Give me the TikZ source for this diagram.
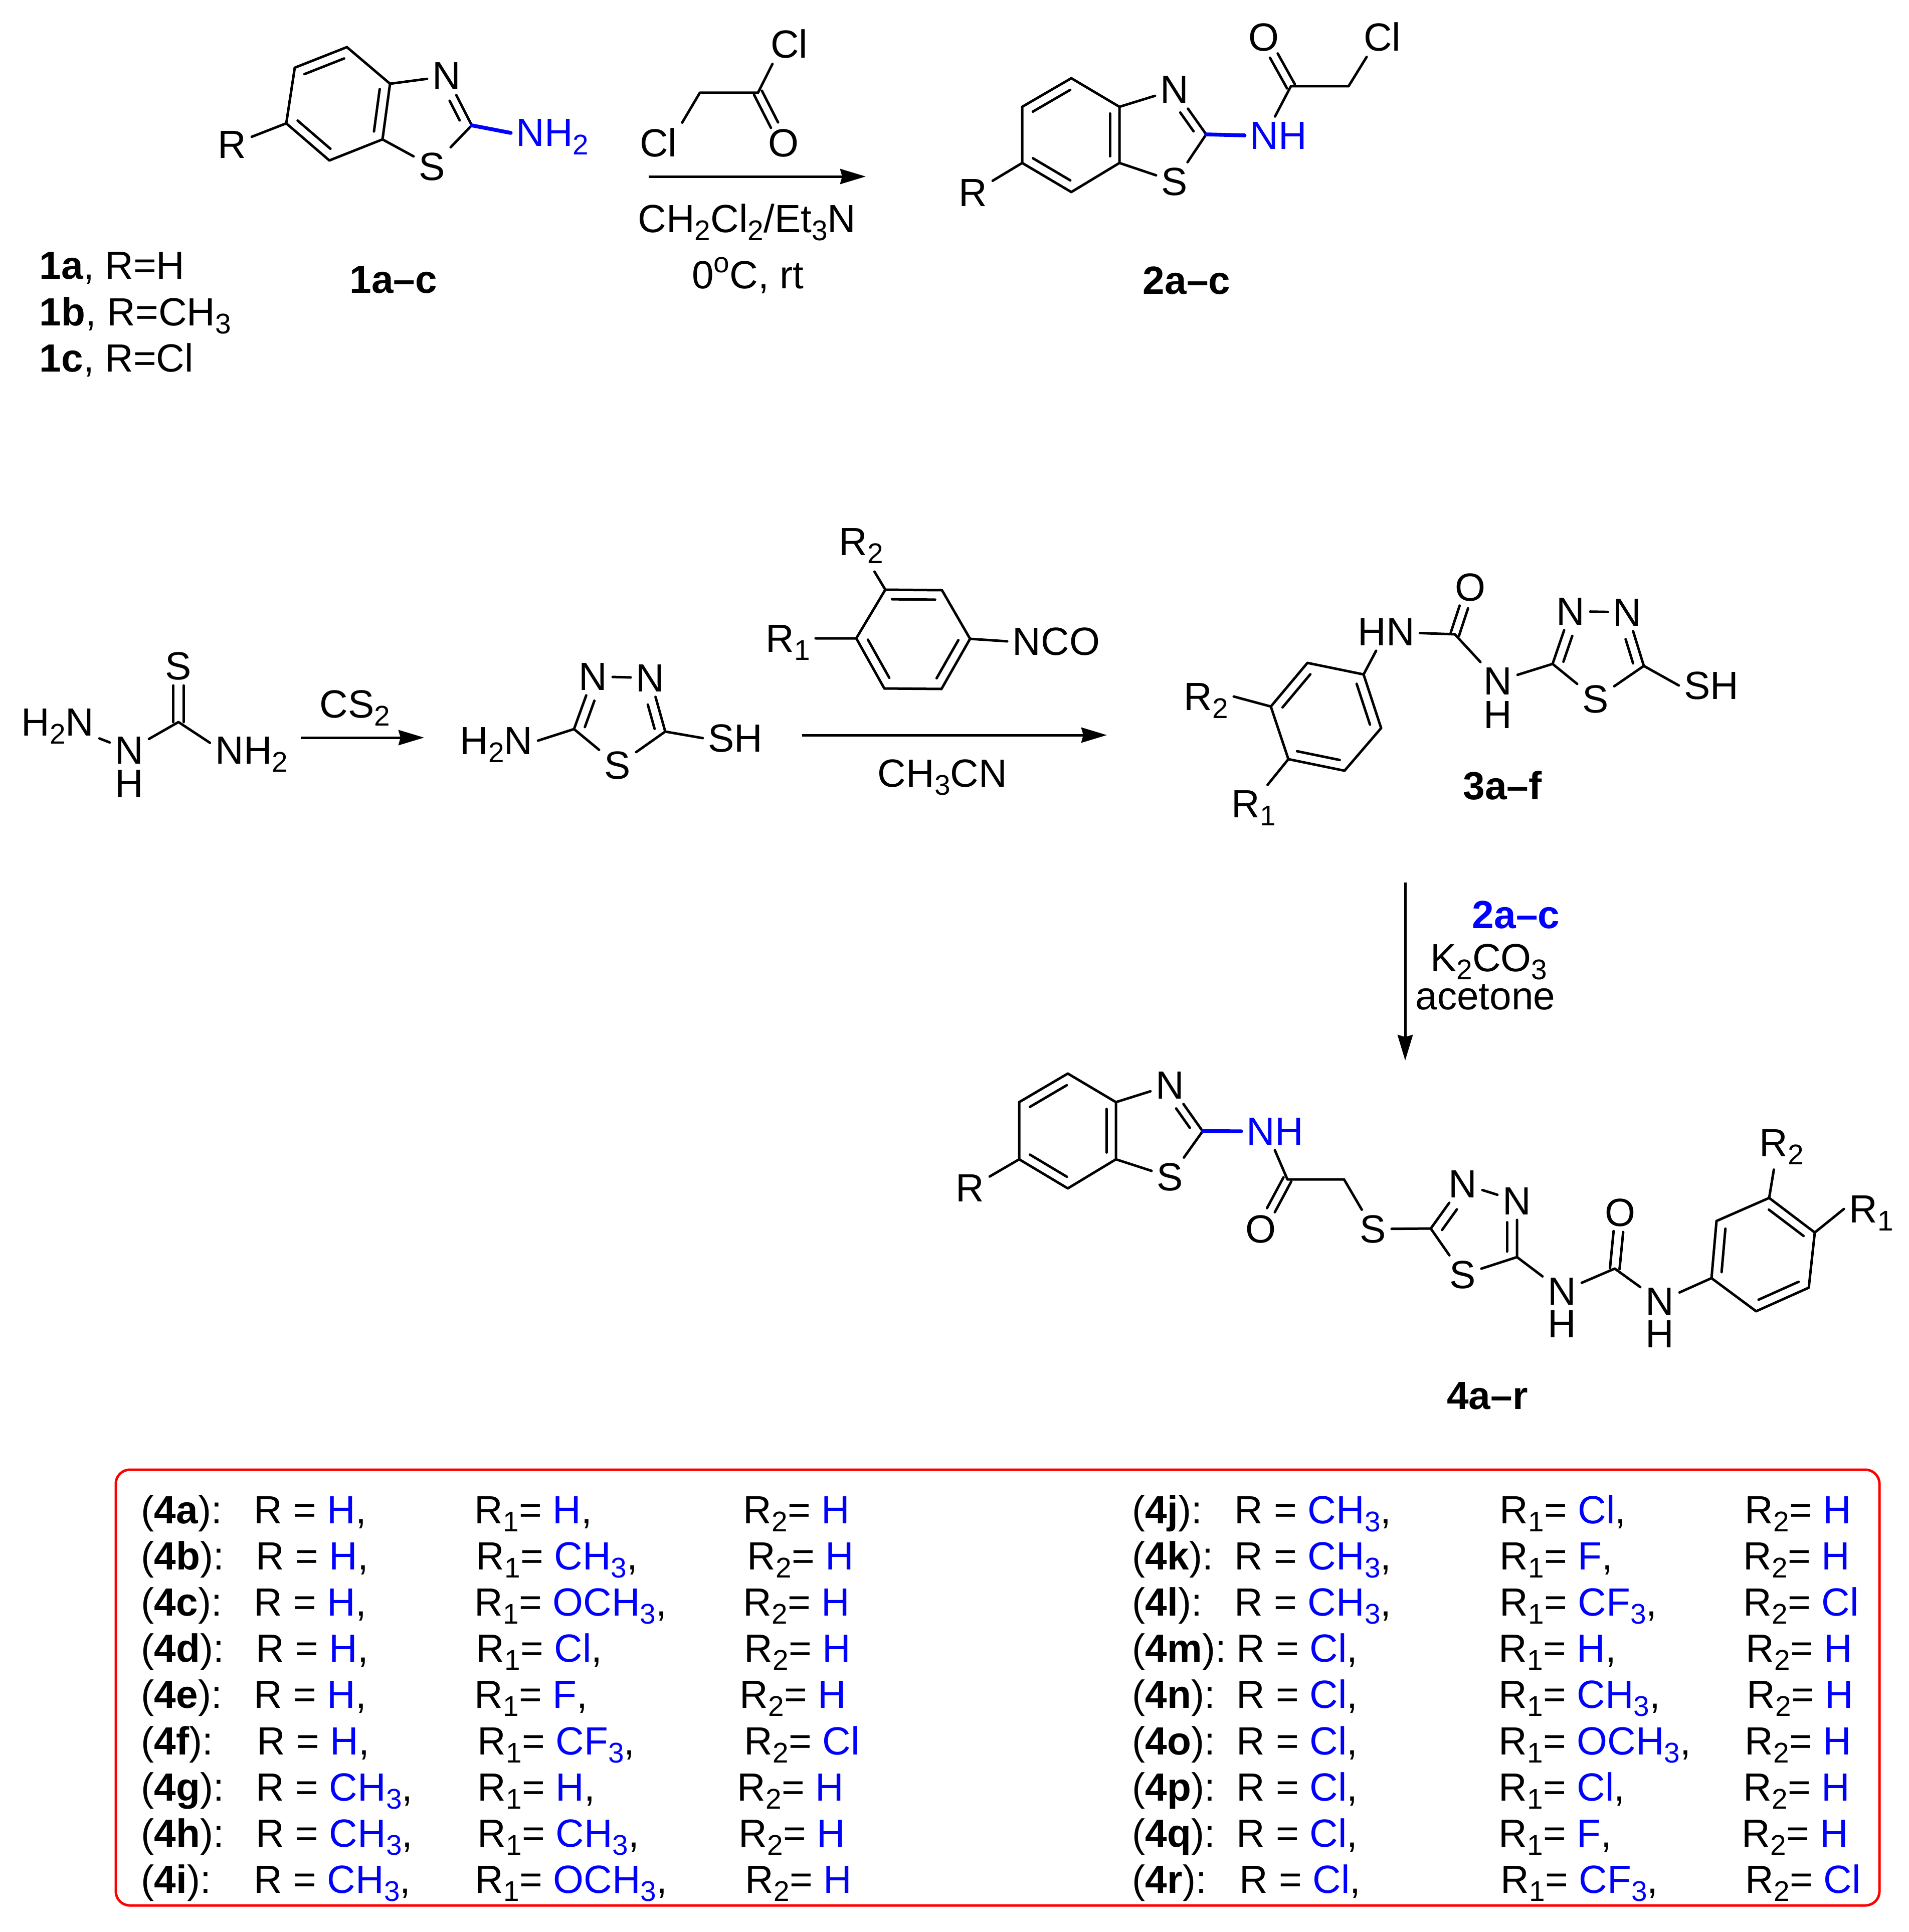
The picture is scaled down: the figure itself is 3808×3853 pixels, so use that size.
\documentclass[tikz,border=0pt]{standalone}
\usepackage{fontspec}
\setmainfont{Liberation Sans}
\usetikzlibrary{arrows.meta,calc}
\definecolor{pureblue}{RGB}{0,0,255}
\definecolor{purered}{RGB}{255,0,0}
\newcommand{\ssb}[1]{\smash{\raisebox{-4.2pt}{\fontsize{14.2}{14}\selectfont #1}}}
\newcommand{\bl}[1]{\textcolor{pureblue}{#1}}
\newcommand{\ibond}[5]{\draw[bond] ($(#1)!#4!(#2)!#3!90:(#2)$) -- ($(#1)!#5!(#2)!#3!90:(#2)$);}
\newcommand{\rdbl}[2]{\ibond{#1}{#2}{-4.75pt}{.12}{.88}}
\newcommand{\datarow}[9]{%
  \node[rowtxt] (lab#1) at (#2,#3) {(\textbf{#1}):};
  \node[rowtxt] (r#1) at (#4-6,#3) {R = #5};
  \node[rowtxt] (ra#1) at (#6-6,#3) {R\ssb{1}= #7};
  \node[rowtxt] (rb#1) at (#8-6,#3) {R\ssb{2}= #9};}
\tikzset{
  bond/.style={line width=1.25pt,line cap=round,black},
  bbond/.style={line width=1.9pt,line cap=round,pureblue},
  rxn/.style={line width=1.25pt,black,-{Stealth[length=12.75pt,width=7.5pt,inset=1pt]}},
  atom/.style={anchor=base,inner sep=2.5pt},
  hatom/.style={anchor=base,inner sep=0pt},
  rowtxt/.style={anchor=base west,inner sep=0pt},
  cmpd/.style={anchor=base,inner sep=0pt,font=\fontsize{19.6}{22}\selectfont\bfseries},
  every node/.append style={font=\fontsize{19.6}{22}\selectfont}
}
\begin{document}
\begin{tikzpicture}[x=0.25pt,y=-0.25pt]
\useasboundingbox (0,0) rectangle (3808,3853);
% ---------- compound 1
\foreach \n/\x/\y in {pa/692/94,pb/588/135,pc/571/246,pd/657/320,pe/763/278,pf/778/167,pg/941/250,
  ph/1396/185,pi/1512/185}
  \coordinate (\n) at (\x,\y);
\node[atom] (pN) at (891,179) {N};
\node[atom] (pS) at (862,359) {S};
\node[atom] (pR) at (463,315) {R};
\node[atom] (pNH) at (1102,292) {\bl{NH\ssb{2}}};
\draw[bond] (pa)--(pb) (pb)--(pc) (pc)--(pd) (pd)--(pe) (pe)--(pf) (pf)--(pa);
\rdbl{pb}{pa}\rdbl{pd}{pc}\rdbl{pf}{pe}
\draw[bond] (pf)--(pN) (pg)--(pN) (pg)--(pS) (pe)--(pS) (pc)--(pR);
\ibond{pg}{pN}{4.25pt}{.18}{.58}
\draw[bbond] (pg)--(pNH.west);
% chloroacetyl chloride
\node[atom] (aClt) at (1574,116) {Cl};
\node[atom] (aCll) at (1313,312) {Cl};
\node[atom] (aO) at (1563,312) {O};
\draw[bond] (ph)--(pi) (pi)--(aClt.-130) (ph)--(aCll.north east);
\ibond{pi}{aO}{2.2pt}{0}{.63}
\ibond{pi}{aO}{-2.2pt}{0}{.66}
\coordinate (ar1s) at (1294,352);
\coordinate (ar1e) at (1727,352);
\draw[rxn] (ar1s)--(ar1e);
\node[anchor=base,inner sep=0pt] (cond1) at (1490,463) {CH\ssb{2}Cl\ssb{2}/Et\ssb{3}N};
\node[anchor=base,inner sep=0pt] (cond2) at (1492,575) {0\raisebox{8pt}{\fontsize{14.2}{14}\selectfont o}C, rt};
\node[cmpd] (c1) at (785,584) {1a–c};
\node[rowtxt] (la) at (78,556) {\textbf{1a}, R=H};
\node[rowtxt] (lb) at (78,649) {\textbf{1b}, R=CH\ssb{3}};
\node[rowtxt] (lc) at (78,741) {\textbf{1c}, R=Cl};
% ---------- compound 2
\foreach \n/\x/\y in {qa/2137/156,qb/2039/213,qc/2039/325,qd/2137/383,qe/2233/325,qf/2233/213,qg/2406/268,
  qh/2575/172,qi/2690/172}
  \coordinate (\n) at (\x,\y);
\node[atom] (qN) at (2343,206) {N};
\node[atom] (qS) at (2343,389) {S};
\node[atom] (qR) at (1941,411) {R};
\node[atom] (qNH) at (2550,297) {\bl{NH}};
\node[atom] (qO) at (2521,102) {O};
\node[atom] (qCl) at (2757,102) {Cl};
\draw[bond] (qa)--(qb) (qb)--(qc) (qc)--(qd) (qd)--(qe) (qe)--(qf) (qf)--(qa);
\rdbl{qb}{qa}\rdbl{qd}{qc}\rdbl{qf}{qe}
\draw[bond] (qf)--(qN) (qg)--(qN) (qg)--(qS) (qe)--(qS) (qc)--(qR);
\ibond{qg}{qN}{4.25pt}{.18}{.6}
\draw[bbond] (qg)--(qNH.west);
\draw[bond] (qh)--(qNH.100) (qh)--(qi) (qi)--(qCl.-128);
\ibond{qh}{qO}{2.2pt}{0}{.63}
\ibond{qh}{qO}{-2.2pt}{0}{.63}
\node[cmpd] (c2) at (2367,586) {2a–c};
% ---------- thiosemicarbazide
\coordinate (tc) at (356,1440);
\node[atom] (tH2N) at (115,1467) {H\ssb{2}N};
\node[atom] (tN) at (258,1523) {N};
\node[hatom] (tH) at (258,1589) {H};
\node[atom] (tNH2) at (502,1523) {NH\ssb{2}};
\node[atom] (tS) at (356,1355) {S};
\draw[bond] (tH2N)--(tN) (tc)--(tN) (tc)--(tNH2.170);
\ibond{tc}{tS}{2.6pt}{0}{.65}
\ibond{tc}{tS}{-2.6pt}{0}{.65}
\coordinate (ar2s) at (600,1471);
\coordinate (ar2e) at (846,1471);
\draw[rxn] (ar2s)--(ar2e);
\node[anchor=base,inner sep=0pt] (cs2) at (708,1431) {CS\ssb{2}};
% ---------- amino thiadiazole thiol
\coordinate (ua) at (1145,1454);
\coordinate (ub) at (1327,1459);
\node[atom] (uN) at (1183,1376) {N};
\node[atom] (uNp) at (1297,1379) {N};
\node[atom] (uS) at (1232,1553) {S};
\node[atom] (uNH) at (990,1504) {H\ssb{2}N};
\node[atom] (uSH) at (1467,1499) {SH};
\draw[bond] (ua)--(uN) (ub)--(uNp) (uN)--(uNp) (ua)--(uS) (ub)--(uS) (ua)--(uNH.east) (ub)--(uSH.west);
\ibond{ua}{uN}{-4.75pt}{.1}{.6}
\ibond{ub}{uNp}{4.75pt}{.1}{.55}
\coordinate (ar3s) at (1600,1466);
\coordinate (ar3e) at (2208,1466);
\draw[rxn] (ar3s)--(ar3e);
\node[anchor=base,inner sep=0pt] (acn) at (1880,1569) {CH\ssb{3}CN};
% ---------- isocyanate
\foreach \n/\x/\y in {va/1766/1176,vb/1879/1177,vc/1935/1274,vd/1878/1374,ve/1764/1373,vf/1708/1273}
  \coordinate (\n) at (\x,\y);
\node[atom] (vR2) at (1718,1107) {R\ssb{2}};
\node[atom] (vR1) at (1572,1300) {R\ssb{1}};
\node[atom] (vNCO) at (2107,1306) {NCO};
\draw[bond] (va)--(vb) (vb)--(vc) (vc)--(vd) (vd)--(ve) (ve)--(vf) (vf)--(va);
\rdbl{va}{vb}\rdbl{vc}{vd}\rdbl{ve}{vf}
\draw[bond,shorten >=6.5pt] (va)--(vR2.-71);
\draw[bond] (vf)--(vR1.east) (vc)--(vNCO.west);
% ---------- compound 3
\foreach \n/\x/\y in {wa/2608/1322,wb/2720/1345,wc/2755/1452,wd/2682/1537,we/2570/1514,wf/2535/1409,
  wg/2902/1265,wh/3097/1324,wi/3279/1328}
  \coordinate (\n) at (\x,\y);
\node[atom] (wR2) at (2406,1416) {R\ssb{2}};
\node[atom] (wR1) at (2501,1630) {R\ssb{1}};
\node[atom] (wHN) at (2765,1287) {HN};
\node[atom] (wO) at (2933,1198) {O};
\node[atom] (wN) at (2988,1385) {N};
\node[hatom] (wH) at (2988,1452) {H};
\node[atom] (wNa) at (3133,1246) {N};
\node[atom] (wNb) at (3246,1248) {N};
\node[atom] (wS) at (3183,1421) {S};
\node[atom] (wSH) at (3414,1394) {SH};
\draw[bond] (wa)--(wb) (wb)--(wc) (wc)--(wd) (wd)--(we) (we)--(wf) (wf)--(wa);
\rdbl{wb}{wc}\rdbl{wd}{we}\rdbl{wf}{wa}
\draw[bond] (wf)--(wR2.east) (we)--(wR1.54) (wb)--(wHN) (wHN)--(wg) (wg)--(wN) (wN)--(wh);
\ibond{wg}{wO}{2.2pt}{0}{.58}
\ibond{wg}{wO}{-2.2pt}{0}{.58}
\draw[bond] (wh)--(wNa) (wi)--(wNb) (wNa)--(wNb) (wh)--(wS) (wi)--(wS) (wi)--(wSH.west);
\ibond{wh}{wNa}{-4.75pt}{.1}{.59}
\ibond{wi}{wNb}{4.75pt}{.1}{.55}
\node[cmpd] (c3) at (2997,1594) {3a–f};
% ---------- vertical arrow
\coordinate (ar4s) at (2803,1760);
\coordinate (ar4e) at (2803,2115);
\draw[rxn] (ar4s)--(ar4e);
\node[cmpd,text=pureblue] (c2b) at (3024,1851) {2a–c};
\node[anchor=base,inner sep=0pt] (k2) at (2970,1937) {K\ssb{2}CO\ssb{3}};
\node[anchor=base,inner sep=0pt] (ace) at (2963,2013) {acetone};
% ---------- compound 4
\foreach \n/\x/\y in {xa/2130/2141,xb/2033/2198,xc/2033/2312,xd/2130/2370,xe/2226/2312,xf/2226/2198,xg/2399/2256,
  xh/2568/2352,xi/2681/2352,xj/2854/2450,xk/3026/2507,xl/3221/2530,
  ya/3414/2549,yb/3424/2435,yc/3529/2389,yd/3620/2458,ye/3608/2568,yf/3503/2615}
  \coordinate (\n) at (\x,\y);
\node[atom] (xN) at (2334,2191) {N};
\node[atom] (xS) at (2334,2374) {S};
\node[atom] (xR) at (1935,2396) {R};
\node[atom] (xNH) at (2543,2283) {\bl{NH}};
\node[atom] (xO) at (2515,2478) {O};
\node[atom] (xT) at (2739,2478) {S};
\node[atom] (xNa) at (2918,2388) {N};
\node[atom] (xNb) at (3026,2422) {N};
\node[atom] (xU) at (2918,2569) {S};
\node[atom] (xNc) at (3116,2602) {N};
\node[hatom] (xHc) at (3116,2667) {H};
\node[atom] (xOb) at (3232,2445) {O};
\node[atom] (xNd) at (3311,2622) {N};
\node[hatom] (xHd) at (3311,2687) {H};
\node[atom] (yR2) at (3554,2306) {R\ssb{2}};
\node[atom] (yR1) at (3733,2438) {R\ssb{1}};
\draw[bond] (xa)--(xb) (xb)--(xc) (xc)--(xd) (xd)--(xe) (xe)--(xf) (xf)--(xa);
\rdbl{xb}{xa}\rdbl{xd}{xc}\rdbl{xf}{xe}
\draw[bond] (xf)--(xN) (xg)--(xN) (xg)--(xS) (xe)--(xS) (xc)--(xR);
\ibond{xg}{xN}{4.25pt}{.18}{.6}
\draw[bbond] (xg)--(xNH.west);
\draw[bond] (xh)--(xNH.south) (xh)--(xi) (xi)--(xT) (xT)--(xj);
\ibond{xh}{xO}{2.2pt}{0}{.62}
\ibond{xh}{xO}{-2.2pt}{0}{.62}
\draw[bond] (xj)--(xNa) (xk)--(xNb) (xNa)--(xNb) (xj)--(xU) (xk)--(xU) (xk)--(xNc) (xNc)--(xl) (xl)--(xNd) (xNd)--(ya);
\ibond{xj}{xNa}{-5pt}{.1}{.56}
\ibond{xk}{xNb}{5pt}{.1}{.62}
\ibond{xl}{xOb}{2.4pt}{0}{.66}
\ibond{xl}{xOb}{-2.4pt}{0}{.66}
\draw[bond] (ya)--(yb) (yb)--(yc) (yc)--(yd) (yd)--(ye) (ye)--(yf) (yf)--(ya);
\rdbl{ya}{yb}\rdbl{yc}{yd}\rdbl{ye}{yf}
\draw[bond,shorten >=4pt] (yc)--(yR2.-109);
\draw[bond] (yd)--(yR1.west);
\node[cmpd] (c4) at (2967,2810) {4a–r};
% ---------- table
\draw[purered,line width=1.25pt,rounded corners=7pt] (231,2931) rectangle (3749,3800);
\datarow{4a}{281}{3038}{512}{\bl{H},}{952}{\bl{H},}{1488}{\bl{H}}
\datarow{4b}{281}{3130}{516}{\bl{H},}{955}{\bl{CH\ssb{3}},}{1496}{\bl{H}}
\datarow{4c}{281}{3222}{512}{\bl{H},}{952}{\bl{OCH\ssb{3}},}{1488}{\bl{H}}
\datarow{4d}{281}{3314}{516}{\bl{H},}{955}{\bl{Cl},}{1490}{\bl{H}}
\datarow{4e}{281}{3406}{512}{\bl{H},}{952}{\bl{F},}{1481}{\bl{H}}
\datarow{4f}{281}{3499}{518}{\bl{H},}{958}{\bl{CF\ssb{3}},}{1490}{\bl{Cl}}
\datarow{4g}{281}{3591}{516}{\bl{CH\ssb{3}},}{958}{\bl{H},}{1476}{\bl{H}}
\datarow{4h}{281}{3683}{516}{\bl{CH\ssb{3}},}{958}{\bl{CH\ssb{3}},}{1479}{\bl{H}}
\datarow{4i}{281}{3775}{512}{\bl{CH\ssb{3}},}{953}{\bl{OCH\ssb{3}},}{1492}{\bl{H}}
\datarow{4j}{2258}{3038}{2468}{\bl{CH\ssb{3}},}{2997}{\bl{Cl},}{3486}{\bl{H}}
\datarow{4k}{2258}{3130}{2468}{\bl{CH\ssb{3}},}{2997}{\bl{F},}{3483}{\bl{H}}
\datarow{4l}{2258}{3222}{2468}{\bl{CH\ssb{3}},}{2997}{\bl{CF\ssb{3}},}{3483}{\bl{Cl}}
\datarow{4m}{2258}{3314}{2472}{\bl{Cl},}{2995}{\bl{H},}{3488}{\bl{H}}
\datarow{4n}{2258}{3406}{2472}{\bl{Cl},}{2995}{\bl{CH\ssb{3}},}{3490}{\bl{H}}
\datarow{4o}{2258}{3499}{2472}{\bl{Cl},}{2995}{\bl{OCH\ssb{3}},}{3486}{\bl{H}}
\datarow{4p}{2258}{3591}{2472}{\bl{Cl},}{2995}{\bl{Cl},}{3483}{\bl{H}}
\datarow{4q}{2258}{3683}{2472}{\bl{Cl},}{2995}{\bl{F},}{3480}{\bl{H}}
\datarow{4r}{2258}{3775}{2478}{\bl{Cl},}{2999}{\bl{CF\ssb{3}},}{3487}{\bl{Cl}}
\end{tikzpicture}
\end{document}
